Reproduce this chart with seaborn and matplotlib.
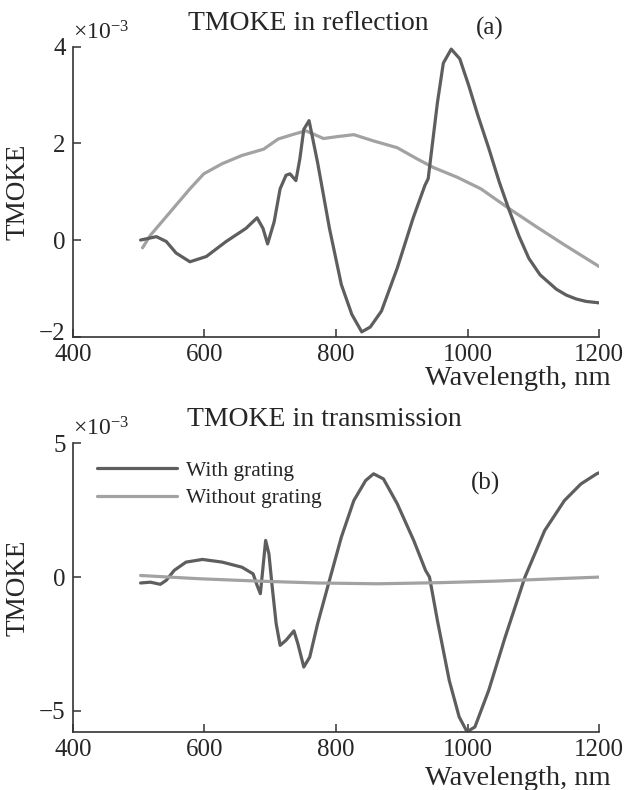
import numpy as np
import pandas as pd
import seaborn as sns
import matplotlib.pyplot as plt
from matplotlib.transforms import ScaledTranslation

# (a) reflection, with grating
refl_wl_grating = [503, 510, 527, 542, 557, 578, 603, 633, 663, 680, 689, 696, 706, 715, 724,
                   730, 739, 745, 751, 759, 772, 790, 808, 824, 839, 852, 869, 893, 917, 935,
                   940, 954, 963, 975, 988, 1002, 1015, 1032, 1048, 1063, 1078, 1093, 1110,
                   1135, 1150, 1165, 1180, 1200]
refl_val_grating = [0.0, 0.02, 0.07, -0.03, -0.27, -0.45, -0.34, -0.03, 0.24, 0.46, 0.24, -0.08,
                    0.38, 1.06, 1.34, 1.37, 1.23, 1.68, 2.29, 2.47, 1.6, 0.24, -0.92, -1.54,
                    -1.9, -1.8, -1.47, -0.58, 0.45, 1.13, 1.27, 2.84, 3.66, 3.95, 3.75, 3.18,
                    2.6, 1.9, 1.2, 0.62, 0.08, -0.38, -0.72, -1.02, -1.14, -1.22, -1.27, -1.3]
# (a) reflection, without grating
refl_wl_plain = [506, 518, 548, 578, 599, 627, 657, 690, 712, 736, 754, 766, 781, 802, 827,
                 857, 893, 923, 948, 984, 1020, 1063, 1105, 1147, 1200]
refl_val_plain = [-0.16, 0.1, 0.58, 1.06, 1.37, 1.58, 1.75, 1.88, 2.09, 2.19, 2.26, 2.19, 2.1,
                  2.14, 2.18, 2.05, 1.91, 1.68, 1.5, 1.3, 1.06, 0.65, 0.27, -0.1, -0.55]

# (b) transmission, with grating
tran_wl_grating = [503, 518, 533, 542, 554, 572, 597, 627, 657, 674, 680, 685, 689, 693, 698,
                   703, 709, 715, 724, 736, 742, 751, 760, 772, 790, 808, 827, 845, 857, 872,
                   893, 918, 936, 942, 954, 972, 987, 999, 1011, 1032, 1057, 1087, 1117, 1147,
                   1172, 1196, 1200]
tran_val_grating = [-0.22, -0.19, -0.27, -0.12, 0.25, 0.56, 0.66, 0.56, 0.37, 0.12, -0.31, -0.62,
                    0.37, 1.37, 0.87, -0.37, -1.74, -2.55, -2.36, -2.01, -2.49, -3.36, -2.99,
                    -1.74, -0.12, 1.49, 2.86, 3.61, 3.86, 3.67, 2.74, 1.37, 0.25, 0.0, -1.62,
                    -3.86, -5.22, -5.78, -5.6, -4.23, -2.24, 0.0, 1.74, 2.86, 3.48, 3.86, 3.9]
# (b) transmission, without grating
tran_wl_plain = [503, 591, 681, 772, 863, 954, 1044, 1135, 1200]
tran_val_plain = [0.06, -0.06, -0.15, -0.22, -0.25, -0.21, -0.15, -0.06, 0.0]

dark = "#5e5e5e"
light = "#a2a2a2"

sns.set_style("ticks")
plt.rcParams['font.family'] = ['Liberation Serif', 'DejaVu Serif']
plt.rcParams['mathtext.fontset'] = 'custom'
plt.rcParams['mathtext.rm'] = 'Liberation Serif'
plt.rcParams['mathtext.it'] = 'Liberation Serif'

W, H = 624, 790
fig = plt.figure(figsize=(W / 100, H / 100), dpi=100)

def px(x, y):
    return x / W, 1 - y / H

ax1 = fig.add_axes([72.8 / W, 1 - 336.7 / H, 526.5 / W, 290 / H])
ax2 = fig.add_axes([72.8 / W, 1 - 732.3 / H, 526.5 / W, 289 / H])

sns.lineplot(x=refl_wl_plain, y=refl_val_plain, ax=ax1, color=light, lw=2.3, sort=False)
sns.lineplot(x=refl_wl_grating, y=refl_val_grating, ax=ax1, color=dark, lw=2.3, sort=False)
sns.lineplot(x=tran_wl_grating, y=tran_val_grating, ax=ax2, color=dark, lw=2.3, sort=False,
             label="With grating")
sns.lineplot(x=tran_wl_plain, y=tran_val_plain, ax=ax2, color=light, lw=2.3, sort=False,
             label="Without grating")

ax1.set_ylim(-2, 4)
ax1.set_yticks([-2, 0, 2, 4])
ax2.set_ylim(-5.8, 5)
ax2.set_yticks([-5, 0, 5])

for ax in (ax1, ax2):
    ax.set_xlim(400, 1200)
    ax.set_xticks([400, 600, 800, 1000, 1200])
    sns.despine(ax=ax)
    for s in ("left", "bottom"):
        ax.spines[s].set_linewidth(1.2)
        ax.spines[s].set_color("#333333")
    ax.tick_params(direction="in", length=6, width=1.1, color="#333333",
                   labelsize=18, pad=5)
    ax.set_ylabel("TMOKE", fontsize=19.5, labelpad=6)
    ax.set_xlabel("")

# lift the "-2" label a little so it clears the "400" below it
lab = ax1.yaxis.get_major_ticks()[0].label1
lab.set_transform(lab.get_transform() + ScaledTranslation(0, 4 / 72, fig.dpi_scale_trans))

ax2.legend(loc="upper left", bbox_to_anchor=(0.046, 0.94), frameon=False, fontsize=15.5,
           handlelength=3.7, handletextpad=0.45, labelspacing=0.35, borderpad=0,
           borderaxespad=0)

fig.text(308.5 / W, 1 - 30 / H, "TMOKE in reflection", fontsize=20, ha="center", va="baseline")
fig.text(324.5 / W, 1 - 426 / H, "TMOKE in transmission", fontsize=20, ha="center",
         va="baseline")
fig.text(*px(490, 28), "(a)", fontsize=18, ha="center", va="center")
fig.text(*px(486, 483), "(b)", fontsize=18, ha="center", va="center")
fig.text(*px(73, 39), r"$\times10^{-3}$", fontsize=17, ha="left", va="baseline")
fig.text(*px(73, 435), r"$\times10^{-3}$", fontsize=17, ha="left", va="baseline")
fig.text(*px(611, 385), "Wavelength, nm", fontsize=20.5, ha="right", va="baseline")
fig.text(*px(611, 785), "Wavelength, nm", fontsize=20.5, ha="right", va="baseline")

fig.savefig("out.png", dpi=100)
